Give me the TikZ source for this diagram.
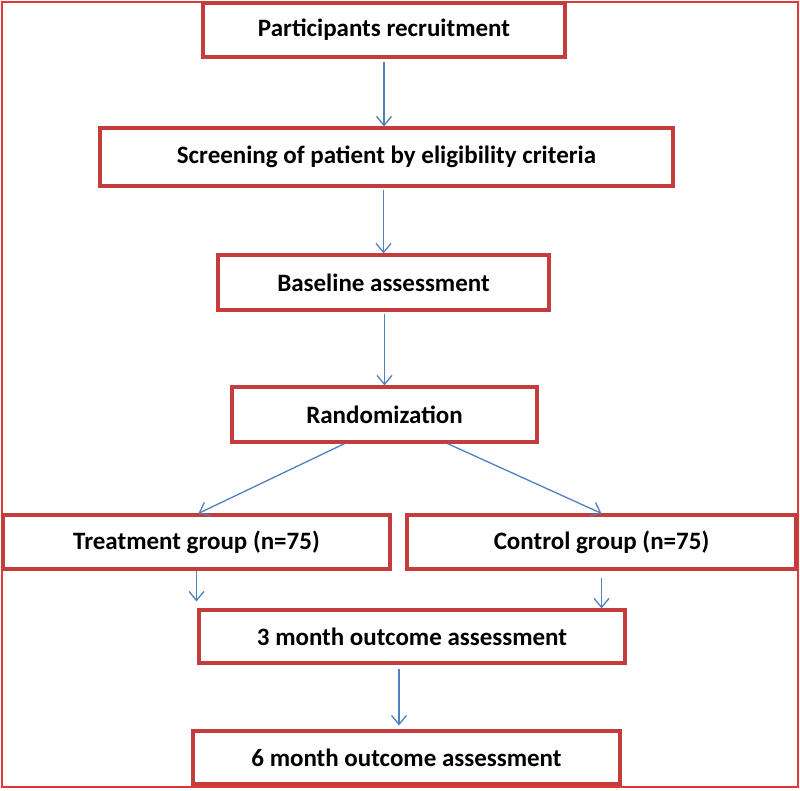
\documentclass[tikz,border=0pt]{standalone}
\usepackage{fontspec}
\setmainfont{Carlito}
\usetikzlibrary{arrows.meta}
\definecolor{boxred}{HTML}{C43C3C}
\definecolor{framered}{HTML}{E33535}
\definecolor{arrblue}{HTML}{4F81BD}
\tikzset{
  stepbox/.style={draw=boxred, line width=3.2pt, fill=white, inner sep=0pt,
    font=\fontsize{25}{30}\selectfont\bfseries, text=black},
  frame/.style={draw=framered, line width=2.4pt, inner sep=0pt},
  arr/.style={draw=arrblue, line width=1.3pt, -{Straight Barb[length=9pt,width=15pt,line width=1.3pt]}}
}
\begin{document}
\begin{tikzpicture}[x=1pt,y=-1pt]
\useasboundingbox (0,0) rectangle (800,790);
\node[frame, minimum width=796pt, minimum height=785pt] (frame) at (400,394.5) {};
\node[stepbox, minimum width=362pt, minimum height=54pt] (b1) at (384,30) {Participants recruitment};
\node[stepbox, minimum width=573pt, minimum height=58pt] (b2) at (386.5,157) {Screening of patient by eligibility criteria};
\node[stepbox, minimum width=331pt, minimum height=55pt] (b3) at (383.5,282.5) {Baseline assessment};
\node[stepbox, minimum width=305pt, minimum height=55pt] (b4) at (384.5,414.5) {Randomization};
\node[stepbox, minimum width=387pt, minimum height=54pt] (b5) at (196.5,542) {Treatment group (n=75)};
\node[stepbox, minimum width=389pt, minimum height=54pt] (b6) at (601.5,542) {Control group (n=75)};
\node[stepbox, minimum width=426pt, minimum height=53pt] (b7) at (412,636.5) {3 month outcome assessment};
\node[stepbox, minimum width=427pt, minimum height=53pt] (b8) at (406.5,757.5) {6 month outcome assessment};
\draw[arr, shorten <=3pt] (b1.south) -- (b1.south |- b2.north);
\draw[arr, shorten <=2pt] (b3.north |- b2.south) -- (b3.north);
\draw[arr, shorten <=2pt] (b4.north |- b3.south) -- (b4.north);
\draw[arr] ([xshift=-40pt]b4.south) -- ([xshift=2pt]b5.north);
\draw[arr] ([xshift=63pt]b4.south) -- (b6.north);
\draw[arr, shorten >=7pt] (b5.south) -- (b5.south |- b7.north);
\draw[arr, shorten <=7pt] (b6.south) -- (b6.south |- b7.north);
\draw[arr, shorten <=4pt, shorten >=4pt] ([xshift=-13pt]b7.south) -- ([xshift=-13pt]b7.south |- b8.north);
\end{tikzpicture}
\end{document}
